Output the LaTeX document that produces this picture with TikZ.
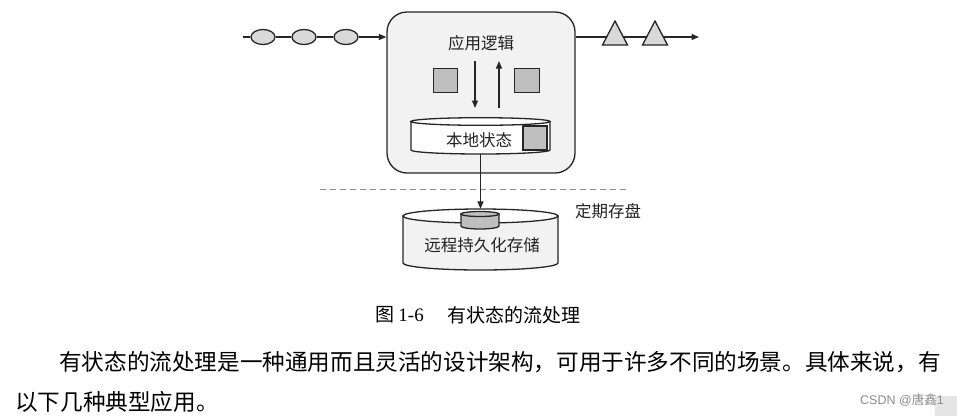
\documentclass[tikz,border=0pt]{standalone}
\usepackage{fontspec}
\setmainfont{Liberation Serif}
\newfontfamily\cjk{Noto Sans CJK SC}
\newfontfamily\wm{Liberation Sans}
\usetikzlibrary{arrows.meta,shapes.geometric}
\definecolor{boxfill}{HTML}{F2F2F2}
\definecolor{itemfill}{HTML}{D9D9D9}
\definecolor{sqfill}{HTML}{BFBFBF}
\definecolor{txt}{HTML}{222222}
\tikzset{
  ln/.style={line width=1.3pt, draw=black!85},
  arr/.style={ln, -{Triangle[length=7.5pt,width=6pt]}},
  ell/.style={ellipse, draw=black!85, line width=1.3pt, fill=itemfill, minimum width=24pt, minimum height=15pt, inner sep=0pt},
  sq/.style={draw=black!85, line width=1.3pt, fill=sqfill, minimum width=24.5pt, minimum height=24.5pt, inner sep=0pt},
  lbl/.style={font=\cjk\fontsize{16.5}{18}\selectfont, text=txt, inner sep=0pt},
  para/.style={font=\cjk\fontsize{22.6}{26}\selectfont, text=black, inner sep=0pt, anchor=west},
  captxt/.style={font=\cjk\fontsize{19}{22}\selectfont, text=black, inner sep=0pt, anchor=west},
  ghost/.style={inner sep=0pt, draw=none}
}
\begin{document}
\begin{tikzpicture}[x=1pt,y=-1pt]
\useasboundingbox (0,0) rectangle (957,416);
\fill[white] (0,0) rectangle (957,416);

% main application box
\node[draw=black!85, line width=1.3pt, fill=boxfill, rounded corners=20pt,
      minimum width=188pt, minimum height=161pt, inner sep=0pt] (app) at (481,92.5) {};
\node[lbl] (logic) at (481,43) {应用逻辑};

% input stream
\coordinate (in) at (243,37);
\node[ell] (e1) at (263,37) {};
\node[ell] (e2) at (304,37) {};
\node[ell] (e3) at (346,37) {};
\draw[ln] (in) -- (e1.west);
\draw[ln] (e1.east) -- (e2.west);
\draw[ln] (e2.east) -- (e3.west);
\draw[arr] (e3.east) -- (app.west |- e3.east);

% output stream
\coordinate (out) at (699,37);
\draw[arr] (app.east |- out) -- (out);
\foreach \cx/\nm in {615/t1,655/t2}{
  \draw[ln, fill=itemfill, line join=miter] (\cx-12.5,45) -- (\cx,21) -- (\cx+12.5,45) -- cycle;
  \node[ghost] (\nm) at (\cx,33) {};
}

% squares
\node[sq] (s1) at (445.5,80.5) {};
\node[sq] (s2) at (527,80.5) {};

% read/write arrows
\coordinate (d1) at (475,61);
\coordinate (d2) at (475,108);
\coordinate (u1) at (499,108);
\coordinate (u2) at (499,61);
\draw[arr] (d1) -- (d2);
\draw[arr] (u1) -- (u2);

% local state cylinder
\draw[ln, fill=white] (411,121.5) -- (411,150)
   arc[start angle=180, end angle=0, x radius=69.5, y radius=4] -- (550,121.5) -- cycle;
\draw[ln, fill=white] (480.5,121.5) ellipse[x radius=69.5, y radius=3.8];
\node[ghost, minimum width=139pt, minimum height=36.5pt] (local) at (480.5,136) {};
\node[lbl] (localtxt) at (479,140) {本地状态};
\node[sq, minimum width=24pt, minimum height=24pt] (s3) at (535,138) {};

% dashed separator
\coordinate (dl) at (320,189);
\coordinate (dr) at (628,189);
\draw[black!45, line width=1pt, dash pattern=on 6pt off 4pt] (dl) -- (dr);
\node[lbl] (ckpt) at (608,211) {定期存盘};

% remote storage cylinder
\draw[ln, fill=boxfill] (403,216) -- (403,263)
   arc[start angle=180, end angle=0, x radius=77.5, y radius=7] -- (558,216) -- cycle;
\draw[ln, fill=white] (480.5,216) ellipse[x radius=77.5, y radius=7];
\draw[ln, fill=sqfill] (461,214) -- (461,226)
   arc[start angle=180, end angle=0, x radius=19, y radius=3] -- (499,214) -- cycle;
\draw[ln, fill=sqfill] (480,214) ellipse[x radius=19, y radius=2.5];
\node[ghost, minimum width=155pt, minimum height=61pt] (remote) at (480.5,239.5) {};
\node[lbl] (remotetxt) at (482,245) {远程持久化存储};

% persist arrow
\draw[arr] (local.south) -- (remote.north);

% caption
\node[captxt] (capA) at (375,315) {图 {\rmfamily 1-6}};
\node[captxt] (capB) at (447,315) {有状态的流处理};

% paragraph
\node[para] (p1) at (59,362) {有状态的流处理是一种通用而且灵活的设计架构，可用于许多不同的场景。具体来说，有};
\node[para] (p2) at (15,402) {以下几种典型应用。};

% watermark
\fill[black!10] (935,396) rectangle (957,416);
\node[inner sep=0pt, anchor=west, text=black!45, font=\wm\fontsize{12.5}{14}\selectfont] (wm) at (860,400) {CSDN @{\cjk 唐鑫}1};
\end{tikzpicture}
\end{document}
